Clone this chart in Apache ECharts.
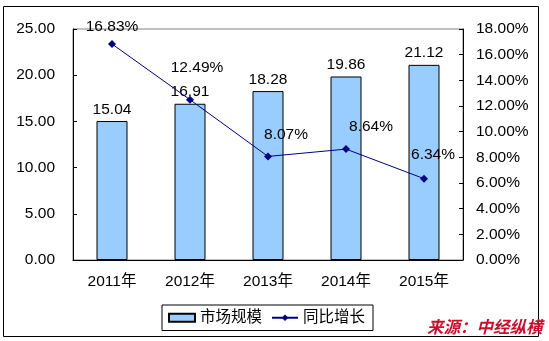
<!DOCTYPE html>
<html><head><meta charset="utf-8">
<script src="https://cdn.jsdelivr.net/npm/echarts@6/dist/echarts.min.js"></script>
<style>html,body{margin:0;padding:0;background:#fff}#c{width:549px;height:341px}</style>
</head><body><div id="c"></div>
<script>
const categories = ['2011年','2012年','2013年','2014年','2015年'];
const marketSize = [15.04, 16.91, 18.28, 19.86, 21.12];
const growthRate = [16.83, 12.49, 8.07, 8.64, 6.34];
const leftTicks = [0, 25, 5];
const rightTicks = [0, 18, 2];

const lineLabelOffsets = [[0,2],[7,-12],[18,-2],[25,-3],[9,-4]];
const font = 'Arial, "Liberation Sans", "Noto Sans CJK SC", sans-serif';
const chart = echarts.init(document.getElementById('c'));
chart.setOption({
  animation: false,
  grid: {left: 73, right: 86, top: 29, bottom: 81, show: true, borderColor: '#808080', borderWidth: 1},
  xAxis: {
    type: 'category', data: categories,
    axisLine: {lineStyle: {color: '#000', width: 1}},
    axisTick: {inside: true, length: 4, lineStyle: {color: '#000'}},
    axisLabel: {color: '#000', fontSize: 15.5, fontFamily: font, margin: 14}
  },
  yAxis: [
    {type: 'value', min: leftTicks[0], max: leftTicks[1], interval: leftTicks[2],
     axisLine: {show: true, lineStyle: {color: '#000'}},
     axisTick: {show: true, inside: true, length: 4, lineStyle: {color: '#000'}},
     splitLine: {show: false},
     axisLabel: {color: '#000', fontSize: 15.5, fontFamily: font, margin: 18, formatter: v => v.toFixed(2)}},
    {type: 'value', min: rightTicks[0], max: rightTicks[1], interval: rightTicks[2],
     axisLine: {show: true, lineStyle: {color: '#000'}},
     axisTick: {show: true, inside: true, length: 4, lineStyle: {color: '#000'}},
     splitLine: {show: false},
     axisLabel: {color: '#000', fontSize: 15.5, fontFamily: font, margin: 13, formatter: v => v.toFixed(2) + '%'}}
  ],
  legend: {
    left: 162, top: 305, itemGap: 9,
    padding: [5, 8, 5, 6],
    borderColor: '#000', borderWidth: 1, backgroundColor: '#fff',
    itemWidth: 26, itemHeight: 8,
    textStyle: {color: '#000', fontSize: 15.5, fontFamily: font},
    data: [{name: '市场规模', icon: 'rect'}, {name: '同比增长'}]
  },
  series: [
    {name: '市场规模', type: 'bar', data: marketSize, barWidth: 31,
     itemStyle: {color: '#99CCFF', borderColor: '#000', borderWidth: 1},
     label: {show: true, position: 'top', distance: 4, color: '#000', fontSize: 15.5, fontFamily: font,
             formatter: p => p.value.toFixed(2)}},
    {name: '同比增长', type: 'line', yAxisIndex: 1,
     data: growthRate.map((v, i) => ({value: v, label: {offset: lineLabelOffsets[i]}})),
     symbol: 'diamond', symbolSize: 8,
     lineStyle: {color: '#000080', width: 1}, itemStyle: {color: '#000080'},
     label: {show: true, position: 'top', distance: 8, color: '#000', fontSize: 15.5, fontFamily: font,
             formatter: p => p.value.toFixed(2) + '%'}}
  ],
  graphic: [
    {type: 'rect', shape: {x: 3.5, y: 6.5, width: 535, height: 330}, style: {fill: 'none', stroke: '#000', lineWidth: 1}, z: -1},
    {type: 'text', left: 427, top: 318, z: 10, style: {text: '来源：中经纵横', fill: '#C8102E', font: 'italic bold 16.5px "Noto Sans CJK SC", sans-serif'}}
  ]
});
</script></body></html>
